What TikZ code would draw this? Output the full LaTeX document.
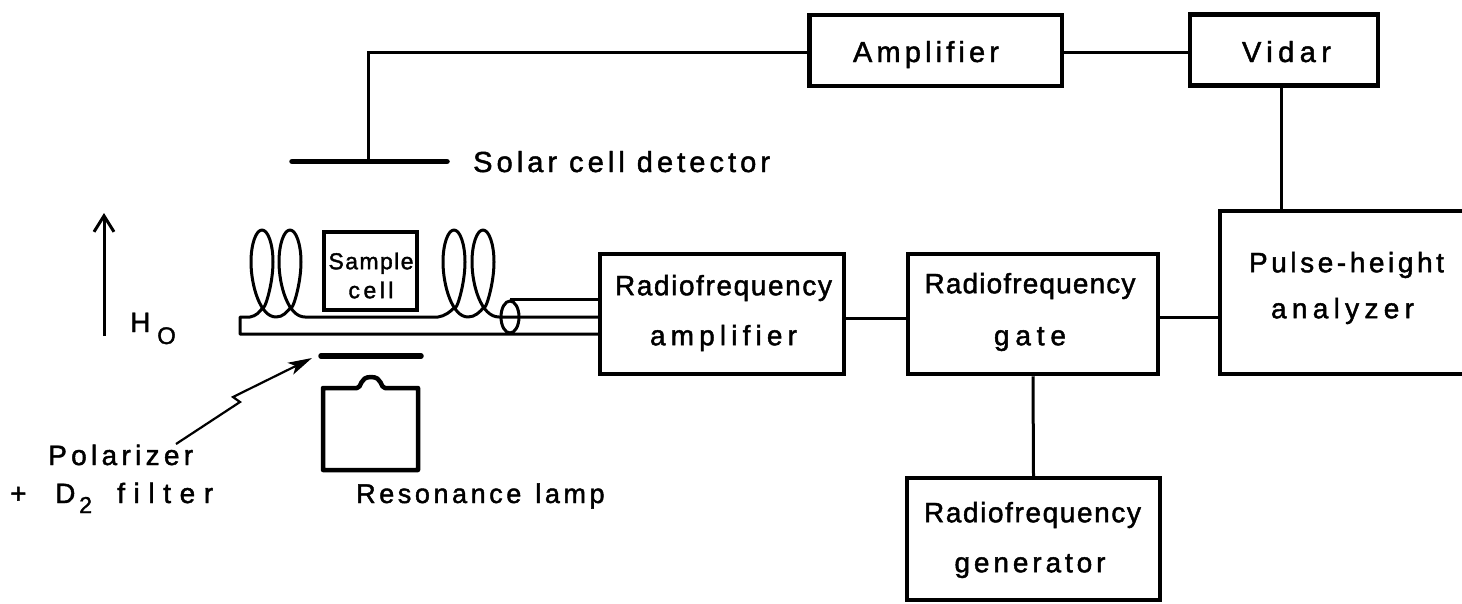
\documentclass[tikz,border=0pt]{standalone}
\usepackage{fontspec}
\setmainfont[FakeBold=1.6]{Liberation Sans}
\usetikzlibrary{arrows.meta,shapes.geometric}
% size, target width, number of gaps plus one, text: the text is spaced out to the width
\newcommand\spaced[4]{{\fontsize{#1}{#1}\selectfont\setbox0\hbox{#4}%
  \pgfmathsetmacro\lsval{(#2-\wd0/1pt)/(#3-1)/#1*100}%
  \addfontfeature{LetterSpace=\lsval}#4}}
\tikzset{
  box/.style={draw,line width=4.5pt,inner sep=0pt},
  txt/.style={inner sep=0pt,align=center},
  wire/.style={line width=3pt},
  bar/.style={line width=5.5pt,line cap=round},
  coil/.style={line width=3pt,line join=round}
}
\newcommand\coilloop[2]{% x of the loop centre, x of the end of the loop's tail
  .. controls (#1+2,312) and (#1+11,285) .. (#1+11,262)
  .. controls (#1+11,244) and (#1+6,230) .. (#1,230)
  .. controls (#1-6,230) and (#1-11,244) .. (#1-11,262)
  .. controls (#1-11,285) and (#1-2,317) .. (#2,317)}
\begin{document}
\begin{tikzpicture}[x=1pt,y=-1pt]
\useasboundingbox (0,0) rectangle (1462,603);
% boxes
\node[box,minimum width=252.5pt,minimum height=71pt] (amp) at (935.8,50.3) {};
\node[box,minimum width=188pt,minimum height=71pt] (vid) at (1284,50) {};
\node[box,minimum width=250pt,minimum height=163pt] (pha) at (1345,292.5) {};
\node[box,minimum width=244pt,minimum height=120pt] (rfa) at (722,314) {};
\node[box,minimum width=250pt,minimum height=120pt] (rfg) at (1033,314) {};
\node[box,minimum width=253pt,minimum height=122pt] (gen) at (1033.5,539) {};
\node[box,minimum width=93pt,minimum height=78pt] (cell) at (370.5,271) {};
% box texts
\node[txt,anchor=base] (tamp) at (926,62) {\spaced{29}{146}{9}{Amplifier}};
\node[txt,anchor=base] (tvid) at (1286.5,62) {\spaced{29}{89}{5}{Vidar}};
\node[txt,font=\fontsize{28}{50}\selectfont] (trfa) at (723.5,313) {\spaced{28}{217}{14}{Radiofrequency}\\\spaced{28}{147}{9}{amplifier}};
\node[txt,font=\fontsize{28}{52}\selectfont] (trfg) at (1030,312) {\spaced{28}{211}{14}{Radiofrequency}\\\spaced{28}{72}{4}{gate}};
\node[txt,font=\fontsize{28}{46}\selectfont] (tpha) at (1342.5,288) {\hspace{8pt}\spaced{28}{195}{12}{Pulse-height}\\\spaced{28}{143}{8}{analyzer}\hspace{8pt}};
\node[txt,font=\fontsize{28}{50}\selectfont] (tgen) at (1030,540) {\hspace{5pt}\spaced{28}{217}{14}{Radiofrequency}\\\spaced{28}{151}{9}{generator}\hspace{5pt}};
\node[txt,font=\fontsize{23}{29}\selectfont] (tcell) at (371,275.5) {\spaced{23}{85}{6}{Sample}\\\spaced{23}{45}{4}{cell}};
% detector
\coordinate (detL) at (292,161.5);
\coordinate (detR) at (447,161.5);
\coordinate (detM) at (368,161.5);
\draw[bar] (detL) -- (detR);
\draw[wire] (amp.west |- 0,52) -| (detM);
\draw[wire] (amp.east |- 0,52) -- (vid.west |- 0,52);
\draw[wire] (vid.south -| 1281,0) -- (pha.north -| 1281,0);
\draw[wire] (rfa.east |- 0,318) -- (rfg.west |- 0,318);
\draw[wire] (rfg.east |- 0,317) -- (pha.west |- 0,317);
\draw[wire] (rfg.south) -- (gen.north);
% labels
\node[txt,anchor=base west] (t1) at (473,172) {\spaced{29}{305}{17}{Solar\hspace{12pt}cell\hspace{12pt}detector}};
\node[txt,anchor=base west] (t2) at (356,503) {\spaced{27}{252}{13}{Resonance\hspace{14pt}lamp}};
\node[txt,anchor=base west] (t3) at (48,465) {\spaced{28}{145}{9}{Polarizer}};
\node[txt,anchor=base west,font=\fontsize{28}{30}\selectfont] (t4) at (10,503) {+};
\node[txt,anchor=base west,font=\fontsize{28}{30}\selectfont] (t5) at (55,503) {D};
\node[txt,anchor=base west,font=\fontsize{23}{30}\selectfont] (t6) at (79,513) {2};
\node[txt,anchor=base west] (t7) at (117,503) {\spaced{28}{96}{6}{filter}};
\node[txt,anchor=base west,font=\fontsize{28}{30}\selectfont] (h) at (130,332) {H};
\node[txt,anchor=base west,font=\fontsize{24}{30}\selectfont] (o) at (157,344) {O};
% H0 arrow
\coordinate (ha) at (104,336);
\coordinate (hb) at (104,213);
\draw[wire,-{Straight Barb[length=16pt,width=20pt,line width=3pt]}] (ha) -- (hb);
% guide and coil
\draw[coil] (rfa.west |- 0,334) -- (240,334) -- (240,317) -- (250,317)
  .. controls (256,316) and (260,312) .. (263,307)
  \coilloop{262}{276}
  .. controls (283,317) and (287,312) .. (291,307)
  \coilloop{290}{305}
  -- (438,317)
  .. controls (445,316) and (450,312) .. (455,307)
  \coilloop{454}{468}
  .. controls (475,317) and (480,312) .. (484,307)
  \coilloop{483}{499}
  -- (rfa.west |- 0,317);
\node[draw,line width=3pt,ellipse,minimum width=18pt,minimum height=32pt,inner sep=0pt] (ell) at (510,317) {};
\draw[wire] (ell.north) -- (rfa.west |- ell.north);
% polarizer and lamp
\coordinate (polL) at (321,356);
\coordinate (polR) at (421,356);
\draw[bar] (polL) -- (polR);
\draw[line width=4.5pt,line join=round] (323,388) -- (357,388) .. controls (362,388) and (359,377) .. (371,377) .. controls (383,377) and (380,388) .. (385,388) -- (418,388) -- (418,470) -- (323,470) -- cycle;
% polarizer pointer
\coordinate (pa) at (176,444);
\coordinate (pb) at (312,358);
\draw[line width=2.2pt,-{Stealth[length=24pt,width=13pt,inset=6pt]}] (pa) -- (240,402) -- (233,397) -- (pb);
\end{tikzpicture}
\end{document}
